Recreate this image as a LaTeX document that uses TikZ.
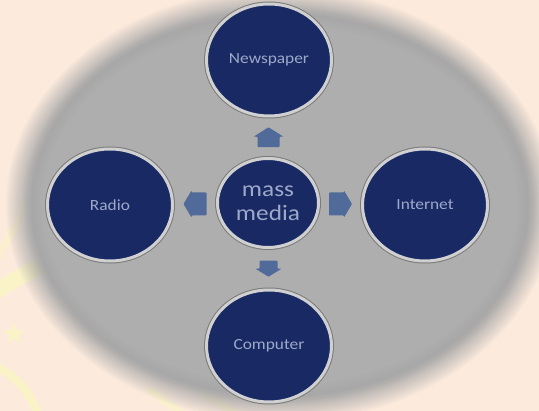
\documentclass[tikz,border=0pt]{standalone}
\usepackage{fontspec}
\setmainfont{Carlito}
\newfontfamily\labelfont[FakeStretch=1.12]{Carlito}
\newfontfamily\hubfont[FakeStretch=1.15]{Carlito}
\usetikzlibrary{shapes.geometric,calc}

\definecolor{peach}{HTML}{FCEADC}
\definecolor{swoosh}{HTML}{FBF3C8}
\definecolor{glowedge}{HTML}{A5A5A5}
\definecolor{glowgrey}{HTML}{AEAEAE}
\definecolor{navy}{HTML}{182964}
\definecolor{rim}{HTML}{D0D0D0}
\definecolor{rimdark}{HTML}{7A7A7A}
\definecolor{txt}{HTML}{9CA9C8}
\definecolor{arrowblue}{HTML}{506B99}

\tikzset{
  media/.style={ellipse, fill=navy, draw=rim, line width=3pt,
    minimum width=125pt, minimum height=112pt, inner sep=0pt,
    text=txt, font=\labelfont\fontsize{15.5}{18}\selectfont,
    preaction={draw=rimdark, line width=5pt}},
  hub/.style={media, minimum width=101pt, minimum height=89pt,
    font=\hubfont\fontsize{22}{24}\selectfont, align=center},
  deco/.style={draw=swoosh, line cap=round},
  blockarrow/.style={fill=arrowblue, rounded corners=0.8pt}
}
% block arrow pointing right in local coordinates: length L, shaft half-width s, head half-width h, head length t
\newcommand{\blockarrowpath}[4]{(-#1/2,-#2) -- (#1/2-#4,-#2) -- (#1/2-#4,-#3) -- (#1/2,0) -- (#1/2-#4,#3) -- (#1/2-#4,#2) -- (-#1/2,#2) -- cycle}

\begin{document}
\begin{tikzpicture}[x=1pt, y=-1pt]
\useasboundingbox (0,0) rectangle (539,411);
\fill[peach] (0,0) rectangle (539,411);

% faint background decorations
\draw[deco, line width=16pt] (-5,292) .. controls (20,276) and (45,262) .. (95,244);
\draw[deco, line width=9pt, opacity=0.5] (-2,256) -- (26,208);
\draw[deco, line width=9pt] (-40,440) circle [radius=82pt];
\draw[deco, line width=8pt, opacity=0.7] (150,390) -- (182,414);
\draw[deco, line width=8pt, opacity=0.7] (205,395) -- (238,414);
\node[star, star points=5, star point ratio=2.3, fill=swoosh, minimum size=23pt, inner sep=0pt] (star) at (14,334) {};

% grey soft-edged ellipse (linear ramp of layered fills)
\foreach \i in {1,...,14} {
  \pgfmathsetmacro{\op}{1/(15-\i)}
  \fill[glowedge, fill opacity=\op] (280,205) ellipse [x radius={276pt-2pt*\i}, y radius={219pt-2pt*\i}];
}
% slightly lighter interior, also with a soft transition
\foreach \i in {1,...,10} {
  \pgfmathsetmacro{\op}{1/(11-\i)}
  \fill[glowgrey, fill opacity=\op] (280,205) ellipse [x radius={258pt-2pt*\i}, y radius={201pt-2pt*\i}];
}

% circles
\node[media] (news) at (269,60) {Newspaper};
\node[media] (radio) at (110,205) {Radio};
\node[media] (net) at (425,205) {Internet};
\node[media] (comp) at (269,346) {Computer};
\node[hub] (mm) at (268,203) {mass\\media};

% block arrows
\coordinate (cup) at ($(mm.north)!0.5!(news.south)$);
\coordinate (cdown) at ($(mm.south)!0.5!(comp.north)$);
\coordinate (cleft) at ($(mm.west)!0.5!(radio.east)$);
\coordinate (cright) at ($(mm.east)!0.5!(net.west)$);
\fill[blockarrow, shift={(cup)}, rotate=90] \blockarrowpath{20}{11}{15}{9.5};
\fill[blockarrow, shift={(cdown)}, rotate=-90] \blockarrowpath{16}{9}{13}{8};
\fill[blockarrow, shift={(cleft)}, rotate=180] \blockarrowpath{23}{11.5}{13.5}{8};
\fill[blockarrow, shift={(cright)}] \blockarrowpath{23}{11.5}{13.5}{8};
\end{tikzpicture}
\end{document}
